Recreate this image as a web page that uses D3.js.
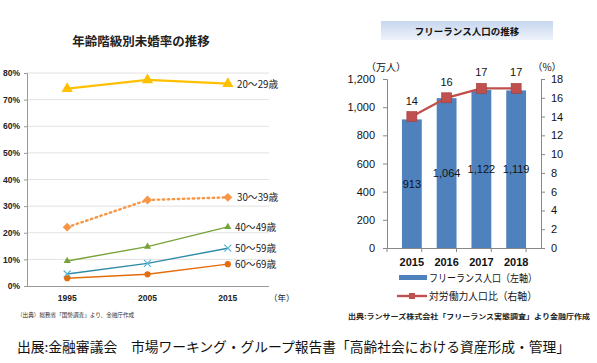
<!DOCTYPE html>
<html>
<head>
<meta charset="utf-8">
<script src="https://cdn.jsdelivr.net/npm/d3@7"></script>
<style>
  body { margin: 0; background: #fff; }
  text { font-family: "Liberation Sans", "Noto Sans CJK JP", sans-serif; }
  .jp { font-family: "Noto Sans CJK JP", sans-serif; }
</style>
</head>
<body>
<div id="chart"></div>
<script>
// left chart: unmarried rate by age group
const years = ["1995", "2005", "2015"];
const ageGroups = ["20～29歳", "30～39歳", "40～49歳", "50～59歳", "60～69歳"];
const rate2029 = [74.1, 77.4, 76.0];
const rate3039 = [22.1, 32.3, 33.3];
const rate4049 = [9.4, 14.8, 22.2];
const rate5059 = [4.5, 8.5, 14.2];
const rate6069 = [2.9, 4.4, 8.2];
const pctTicks = [0, 10, 20, 30, 40, 50, 60, 70, 80];

// right chart: freelance population
const flYears = ["2015", "2016", "2017", "2018"];
const flPop = [913, 1064, 1122, 1119];
const flRatio = [14, 16, 17, 17];
const popTicks = [0, 200, 400, 600, 800, 1000, 1200];
const ratioTicks = [0, 2, 4, 6, 8, 10, 12, 14, 16, 18];

const W = 597, H = 363;
const svg = d3.select("#chart").append("svg")
    .attr("width", W)
    .attr("height", H);

const defs = svg.append("defs");
const grad = defs.append("linearGradient")
    .attr("id", "titlegrad")
    .attr("x1", 0).attr("y1", 0).attr("x2", 0).attr("y2", 1);
grad.append("stop").attr("offset", "0%").attr("stop-color", "#c6d6ee");
grad.append("stop").attr("offset", "100%").attr("stop-color", "#eef3fa");

// ---------- left chart ----------
const x1 = d3.scalePoint().domain(years).range([27, 268]).padding(0.5);
const y1 = d3.scaleLinear().domain([0, 80]).range([286, 73]);

svg.append("text")
    .attr("class", "jp")
    .attr("x", 141).attr("y", 46)
    .attr("text-anchor", "middle")
    .style("font-size", "12.5px")
    .style("font-weight", "bold")
    .attr("fill", "#222")
    .text("年齢階級別未婚率の推移");

svg.append("g").selectAll("line")
    .data(pctTicks.filter(d => d > 0))
    .enter().append("line")
    .attr("x1", 27).attr("x2", 269)
    .attr("y1", d => y1(d)).attr("y2", d => y1(d))
    .attr("stroke", "#e2e2e2").attr("stroke-width", 1);

const leftAxis = svg.append("g")
    .attr("transform", "translate(27,0)")
    .call(d3.axisLeft(y1).tickValues(pctTicks).tickFormat(d => d + "%").tickSize(3));
leftAxis.select(".domain").attr("stroke", "#999");
leftAxis.selectAll(".tick line").attr("stroke", "#999");
leftAxis.selectAll("text")
    .style("font-size", "8.5px").style("font-weight", "bold")
    .attr("fill", "#222").attr("x", -7);

svg.append("line")
    .attr("x1", 27).attr("x2", 269)
    .attr("y1", 286.5).attr("y2", 286.5)
    .attr("stroke", "#999").attr("stroke-width", 1.2);

svg.append("g").selectAll("text")
    .data(years)
    .enter().append("text")
    .attr("x", d => x1(d)).attr("y", 301)
    .attr("text-anchor", "middle")
    .style("font-size", "8.5px").style("font-weight", "bold")
    .attr("fill", "#222")
    .text(d => d);

svg.append("text")
    .attr("class", "jp")
    .attr("x", 269).attr("y", 301)
    .style("font-size", "8.5px")
    .attr("fill", "#222")
    .text("（年）");

const series = [
    {name: ageGroups[0], vals: rate2029, color: "#ffc000", width: 2.2, dash: null, marker: "triangle", msize: 55, lx: 237, ly: 88},
    {name: ageGroups[1], vals: rate3039, color: "#f79646", width: 2.4, dash: "1.5,3.5", marker: "diamond", msize: 50, lx: 237, ly: 201},
    {name: ageGroups[2], vals: rate4049, color: "#77a33a", width: 1.4, dash: null, marker: "triangle", msize: 22, lx: 235, ly: 231},
    {name: ageGroups[3], vals: rate5059, color: "#2f8aa8", width: 1.4, dash: null, marker: "x", msize: 3.5, lx: 235, ly: 252},
    {name: ageGroups[4], vals: rate6069, color: "#e46c0a", width: 1.4, dash: null, marker: "circle", msize: 30, lx: 235, ly: 268}
];

const line1 = d3.line().x((d, i) => x1(years[i])).y(d => y1(d));

series.forEach(function (s) {
    const g = svg.append("g");
    g.append("path")
        .attr("d", line1(s.vals))
        .attr("fill", "none")
        .attr("stroke", s.color)
        .attr("stroke-width", s.width)
        .attr("stroke-dasharray", s.dash)
        .attr("stroke-linecap", s.dash ? "round" : "butt");
    s.vals.forEach(function (v, i) {
        const cx = x1(years[i]), cy = y1(v);
        if (s.marker === "x") {
            const r = s.msize;
            g.append("path")
                .attr("d", `M${cx - r},${cy - r}L${cx + r},${cy + r}M${cx - r},${cy + r}L${cx + r},${cy - r}`)
                .attr("stroke", "#5ab4d6").attr("stroke-width", 1.2);
        } else {
            const type = s.marker === "triangle" ? d3.symbolTriangle
                : s.marker === "diamond" ? d3.symbolDiamond2 : d3.symbolCircle;
            g.append("path")
                .attr("d", d3.symbol().type(type).size(s.msize)())
                .attr("transform", `translate(${cx},${cy})`)
                .attr("fill", s.color);
        }
    });
    g.append("text")
        .attr("class", "jp")
        .attr("x", s.lx).attr("y", s.ly)
        .style("font-size", "9.8px")
        .attr("fill", "#222")
        .text(s.name);
});

svg.append("text")
    .attr("class", "jp")
    .attr("x", 17).attr("y", 317)
    .style("font-size", "5.6px")
    .attr("fill", "#333")
    .text("（出典）総務省「国勢調査」より、金融庁作成");

// ---------- right chart ----------
const x2 = d3.scaleBand().domain(flYears).range([387, 541]).padding(0.43);
const y2 = d3.scaleLinear().domain([0, 1200]).range([248, 79]);
const y3 = d3.scaleLinear().domain([0, 18]).range([248, 79]);

svg.append("rect")
    .attr("x", 381).attr("y", 21)
    .attr("width", 172).attr("height", 19)
    .attr("fill", "url(#titlegrad)");
svg.append("text")
    .attr("class", "jp")
    .attr("x", 467).attr("y", 34.5)
    .attr("text-anchor", "middle")
    .style("font-size", "9.5px").style("font-weight", "bold")
    .attr("fill", "#111")
    .text("フリーランス人口の推移");

svg.selectAll(".bar")
    .data(flYears)
    .enter().append("rect")
    .attr("class", "bar")
    .attr("x", d => x2(d))
    .attr("width", x2.bandwidth())
    .attr("y", (d, i) => y2(flPop[i]))
    .attr("height", (d, i) => y2(0) - y2(flPop[i]))
    .attr("fill", "#4f81bd");

const popAxis = svg.append("g")
    .attr("transform", "translate(387,0)")
    .call(d3.axisLeft(y2).tickValues(popTicks).tickFormat(d3.format(",")).tickSize(4));
const ratioAxis = svg.append("g")
    .attr("transform", "translate(541,0)")
    .call(d3.axisRight(y3).tickValues(ratioTicks).tickSize(4));
const yearAxis = svg.append("g")
    .attr("transform", "translate(0,248)")
    .call(d3.axisBottom(x2).tickSize(0));

[popAxis, ratioAxis, yearAxis].forEach(function (a) {
    a.select(".domain").attr("stroke", "#888");
    a.selectAll(".tick line").attr("stroke", "#888");
    a.selectAll("text").style("font-size", "11px").attr("fill", "#111");
});
popAxis.selectAll("text").attr("x", -12);
ratioAxis.selectAll("text").attr("x", 10);
yearAxis.selectAll("text").attr("y", 10).style("font-weight", "bold");

// small ticks between the year bands
svg.append("g").selectAll("line")
    .data(flYears.concat(["end"]))
    .enter().append("line")
    .attr("x1", (d, i) => 387 + i * x2.step())
    .attr("x2", (d, i) => 387 + i * x2.step())
    .attr("y1", 248).attr("y2", 252)
    .attr("stroke", "#888");

svg.append("text")
    .attr("class", "jp")
    .attr("x", 386).attr("y", 71)
    .attr("text-anchor", "middle")
    .style("font-size", "10px")
    .attr("fill", "#111")
    .text("（万人）");
svg.append("text")
    .attr("class", "jp")
    .attr("x", 547).attr("y", 71)
    .attr("text-anchor", "middle")
    .style("font-size", "10px")
    .attr("fill", "#111")
    .text("（%）");

svg.selectAll(".barlabel")
    .data(flYears)
    .enter().append("text")
    .attr("class", "barlabel")
    .attr("x", d => x2(d) + x2.bandwidth() / 2)
    .attr("y", (d, i) => (y2(flPop[i]) + y2(0)) / 2 + 4)
    .attr("text-anchor", "middle")
    .style("font-size", "11px")
    .attr("fill", "#111")
    .text((d, i) => d3.format(",")(flPop[i]));

const line2 = d3.line()
    .x((d, i) => x2(flYears[i]) + x2.bandwidth() / 2)
    .y(d => y3(d));
svg.append("path")
    .attr("d", line2(flRatio))
    .attr("fill", "none")
    .attr("stroke", "#c0504d")
    .attr("stroke-width", 2.4);
svg.selectAll(".mark")
    .data(flYears)
    .enter().append("rect")
    .attr("class", "mark")
    .attr("x", d => x2(d) + x2.bandwidth() / 2 - 5)
    .attr("y", (d, i) => y3(flRatio[i]) - 5)
    .attr("width", 10).attr("height", 10)
    .attr("fill", "#c0504d")
    .attr("stroke", "#a03c39").attr("stroke-width", 0.6);
svg.selectAll(".marklabel")
    .data(flYears)
    .enter().append("text")
    .attr("class", "marklabel")
    .attr("x", d => x2(d) + x2.bandwidth() / 2)
    .attr("y", (d, i) => y3(flRatio[i]) - 12)
    .attr("text-anchor", "middle")
    .style("font-size", "11px")
    .attr("fill", "#111")
    .text((d, i) => flRatio[i]);

// legend
svg.append("rect")
    .attr("x", 399).attr("y", 275)
    .attr("width", 28).attr("height", 5)
    .attr("fill", "#4f81bd");
svg.append("text")
    .attr("class", "jp")
    .attr("x", 429).attr("y", 282)
    .attr("textLength", 108).attr("lengthAdjust", "spacingAndGlyphs")
    .style("font-size", "10.5px")
    .attr("fill", "#111")
    .text("フリーランス人口（左軸）");
svg.append("line")
    .attr("x1", 397).attr("x2", 427)
    .attr("y1", 296).attr("y2", 296)
    .attr("stroke", "#c0504d").attr("stroke-width", 2.4);
svg.append("rect")
    .attr("x", 409).attr("y", 293)
    .attr("width", 6).attr("height", 6)
    .attr("fill", "#c0504d");
svg.append("text")
    .attr("class", "jp")
    .attr("x", 429).attr("y", 300)
    .attr("textLength", 108).attr("lengthAdjust", "spacingAndGlyphs")
    .style("font-size", "10.5px")
    .attr("fill", "#111")
    .text("対労働力人口比（右軸）");

svg.append("text")
    .attr("class", "jp")
    .attr("x", 348).attr("y", 318.5)
    .attr("textLength", 242).attr("lengthAdjust", "spacingAndGlyphs")
    .style("font-size", "7px").style("font-weight", "bold")
    .attr("fill", "#222")
    .text("出典:ランサーズ株式会社「フリーランス実態調査」より金融庁作成");

// bottom caption
svg.append("text")
    .attr("class", "jp")
    .attr("x", 17).attr("y", 352)
    .attr("textLength", 553).attr("lengthAdjust", "spacingAndGlyphs")
    .style("font-size", "13.5px")
    .attr("fill", "#111")
    .text("出展:金融審議会　市場ワーキング・グループ報告書「高齢社会における資産形成・管理」");
</script>
</body>
</html>
